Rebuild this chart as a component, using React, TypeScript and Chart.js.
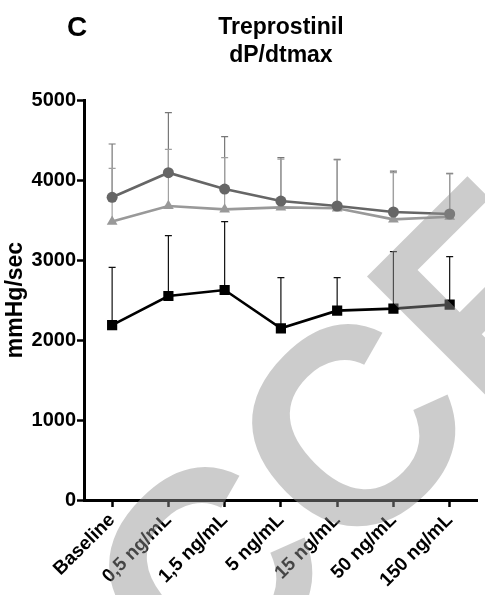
import React, { useEffect, useRef } from "react";
import { Chart, registerables } from "chart.js";

Chart.register(...registerables);

const panelLetter = "C";
const titleLines = ["Treprostinil", "dP/dtmax"];
const yAxisTitle = "mmHg/sec";
const watermarkText = "CCF";

const categories = [
  "Baseline",
  "0,5 ng/mL",
  "1,5 ng/mL",
  "5 ng/mL",
  "15 ng/mL",
  "50 ng/mL",
  "150 ng/mL",
];

const circleMean = [3784, 4091, 3887, 3737, 3675, 3600, 3575];
const circleSd = [666, 750, 654, 542, 583, 512, 508];

const triangleMean = [3480, 3675, 3633, 3658, 3646, 3508, 3541];
const triangleSd = [666, 708, 646, 602, 604, 584, 534];

const squareMean = [2187, 2550, 2625, 2146, 2367, 2392, 2442];
const squareSd = [721, 754, 854, 633, 412, 712, 600];

const yMin = 0;
const yMax = 5000;
const yStep = 1000;

const FONT = '"Liberation Sans", Arial, sans-serif';

// Upper SD whiskers with caps, drawn beneath the markers
const errorBars = {
  id: "errorBars",
  beforeDatasetsDraw(chart: any) {
    const ctx = chart.ctx;
    const yScale = chart.scales.y;
    chart.data.datasets.forEach((ds: any, i: number) => {
      const meta = chart.getDatasetMeta(i);
      const sd: number[] = ds.sd;
      ctx.save();
      ctx.strokeStyle = ds.errorColor;
      ctx.lineWidth = 1.2;
      meta.data.forEach((pt: any, j: number) => {
        const x = pt.x;
        const y0 = yScale.getPixelForValue(ds.data[j]);
        const y1 = yScale.getPixelForValue(ds.data[j] + sd[j]);
        ctx.beginPath();
        ctx.moveTo(x, y0);
        ctx.lineTo(x, y1);
        ctx.moveTo(x - 3.5, y1);
        ctx.lineTo(x + 3.5, y1);
        ctx.stroke();
      });
      ctx.restore();
    });
  },
};

// Panel letter and two-line heading
const headings = {
  id: "headings",
  afterDraw(chart: any) {
    const ctx = chart.ctx;
    const area = chart.chartArea;
    ctx.save();
    ctx.fillStyle = "#000";
    ctx.textBaseline = "alphabetic";
    ctx.textAlign = "center";
    ctx.font = `bold 28px ${FONT}`;
    ctx.fillText(panelLetter, 77, 36);
    ctx.font = `bold 23px ${FONT}`;
    const cx = (area.left + area.right) / 2;
    titleLines.forEach((line, k) => ctx.fillText(line, cx, 34 + k * 28));
    ctx.restore();
  },
};

// Translucent diagonal stamp laid over the finished plot
const stamp = {
  id: "stamp",
  afterDraw(chart: any) {
    const ctx = chart.ctx;
    ctx.save();
    ctx.translate(204, 712);
    ctx.rotate(-Math.PI / 4);
    ctx.font = `bold 280px ${FONT}`;
    ctx.textAlign = "left";
    ctx.textBaseline = "alphabetic";
    ctx.fillStyle = "rgba(146,146,146,0.47)";
    ctx.fillText(watermarkText, 0, 0);
    ctx.restore();
  },
};

export default function App() {
  const canvasRef = useRef<HTMLCanvasElement | null>(null);

  useEffect(() => {
    document.body.style.margin = "0";
    const canvas = canvasRef.current;
    if (!canvas) return;

    const chart = new Chart(canvas, {
      type: "line",
      data: {
        labels: categories,
        datasets: [
          {
            label: "circle",
            data: circleMean,
            sd: circleSd,
            errorColor: "#777777",
            borderColor: "#666666",
            backgroundColor: "#666666",
            borderWidth: 2.6,
            pointStyle: "circle",
            pointRadius: 5.5,
            pointBorderWidth: 0,
            tension: 0,
          } as any,
          {
            label: "triangle",
            data: triangleMean,
            sd: triangleSd,
            errorColor: "#a0a0a0",
            borderColor: "#999999",
            backgroundColor: "#999999",
            borderWidth: 2.6,
            pointStyle: "triangle",
            pointRadius: 6.2,
            pointBorderWidth: 0,
            tension: 0,
          } as any,
          {
            label: "square",
            data: squareMean,
            sd: squareSd,
            errorColor: "#111111",
            borderColor: "#000000",
            backgroundColor: "#000000",
            borderWidth: 2.6,
            pointStyle: "rect",
            pointRadius: 7.2,
            pointBorderWidth: 0,
            tension: 0,
          } as any,
        ],
      },
      options: {
        responsive: true,
        maintainAspectRatio: false,
        animation: false,
        layout: { padding: { top: 100, right: 2, left: 0, bottom: 0 } },
        plugins: {
          legend: { display: false },
          tooltip: { enabled: false },
          title: { display: false },
        },
        scales: {
          x: {
            type: "category",
            offset: true,
            afterFit: (s: any) => {
              s.height = 95;
            },
            grid: {
              display: true,
              drawOnChartArea: false,
              drawTicks: true,
              tickLength: 7,
              tickWidth: 2.5,
              tickColor: "#000",
              offset: false,
            },
            border: { display: true, color: "#000", width: 3 },
            ticks: {
              autoSkip: false,
              maxRotation: 45,
              minRotation: 45,
              padding: 2,
              color: "#000",
              font: { family: FONT, size: 19, weight: "bold" },
            },
          },
          y: {
            min: yMin,
            max: yMax,
            afterFit: (s: any) => {
              s.width = 84;
            },
            grid: {
              display: true,
              drawOnChartArea: false,
              drawTicks: true,
              tickLength: 7,
              tickWidth: 2.5,
              tickColor: "#000",
            },
            border: { display: true, color: "#000", width: 3 },
            ticks: {
              stepSize: yStep,
              padding: 1,
              color: "#000",
              callback: (v: any) => String(v),
              font: { family: FONT, size: 20, weight: "bold" },
            },
            title: {
              display: true,
              text: yAxisTitle,
              color: "#000",
              padding: { top: 2, bottom: 2 },
              font: { family: FONT, size: 23, weight: "bold" },
            },
          },
        },
      },
      plugins: [errorBars, headings, stamp],
    });

    return () => chart.destroy();
  }, []);

  return (
    <div style={{ position: "fixed", left: 0, top: 0, width: 485, height: 595, background: "#fff" }}>
      <canvas ref={canvasRef} />
    </div>
  );
}
